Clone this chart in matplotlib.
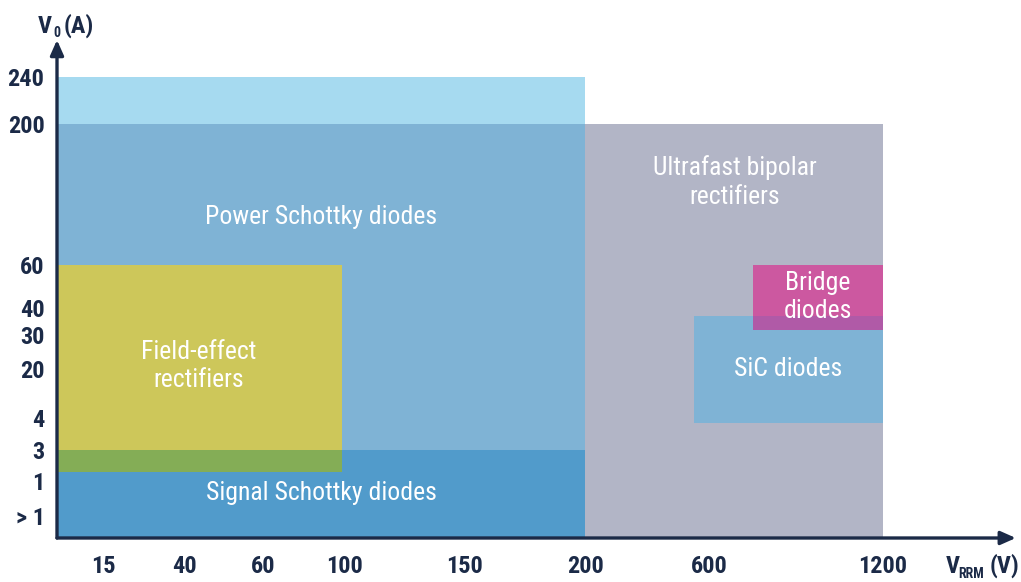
import numpy as np
import matplotlib
matplotlib.use("Agg")
from matplotlib import pyplot as plt
from matplotlib.patches import Rectangle

# ---- data ----
x_ticks = [15, 40, 60, 100, 150, 200, 600, 1200]
x_tick_labels = ["15", "40", "60", "100", "150", "200", "600", "1200"]
y_ticks = [0.5, 1, 3, 4, 20, 30, 40, 60, 200, 240]
y_tick_labels = ["> 1", "1", "3", "4", "20", "30", "40", "60", "200", "240"]

# name, V_RRM from, V_RRM to, V0 from, V0 to
region_names = ["power_top", "power", "signal", "ultrafast", "field_effect",
                "field_signal", "sic", "bridge", "bridge_sic"]
region_v_lo = [0, 0, 0, 200, 0, 0, 550, 750, 750]
region_v_hi = [200, 200, 200, 1200, 99, 99, 1200, 1200, 1200]
region_a_lo = [200, 0, 0, 0, 1.6, 1.6, 3.85, 32, 32]
region_a_hi = [240, 200, 3, 200, 60, 3, 37, 60, 37]
region_colors = ["#a6daf0", "#7fb3d5", "#519bcb", "#b2b5c6", "#cdc75a",
                 "#84ad56", "#7fb3d5", "#cc58a0", "#b05aa7"]

labels = ["Power Schottky diodes", "Ultrafast bipolar\nrectifiers",
          "Field-effect\nrectifiers", "Signal Schottky diodes",
          "SiC diodes", "Bridge\ndiodes"]
label_pos = [(0.320, 0.696), (0.821, 0.772), (0.172, 0.373),
             (0.320, 0.098), (0.885, 0.367), (0.921, 0.523)]

# ---- uneven axis scales (value -> position along the drawn axis) ----
x_anchor_val = [0, 15, 40, 60, 100, 150, 200, 600, 1200]
x_anchor_pos = [0, 46, 127, 206, 287, 407, 528, 652, 826]
y_anchor_val = [0, 0.5, 1, 3, 4, 20, 30, 40, 60, 200, 240]
y_anchor_pos = [0, 22, 57, 88, 120, 169, 203, 230, 273, 414, 461]


def make_scale(vals, pos):
    vals = np.array(vals, dtype=float)
    pos = np.array(pos, dtype=float)
    fwd = lambda v: np.interp(v, vals, pos)
    inv = lambda p: np.interp(p, pos, vals)
    return fwd, inv


navy = "#1b2a47"
plt.rcParams["font.family"] = ["Roboto Condensed", "DejaVu Sans"]
plt.rcParams["font.stretch"] = "condensed"

fig = plt.figure(figsize=(10.21, 5.82), dpi=100)
ax = fig.add_axes([57 / 1021, 44 / 582, 826 / 1021, 461 / 582])
ax.set_xscale("function", functions=make_scale(x_anchor_val, x_anchor_pos))
ax.set_yscale("function", functions=make_scale(y_anchor_val, y_anchor_pos))
ax.set_xlim(0, 1200)
ax.set_ylim(0, 240)

for name, x0, x1, y0, y1, c in zip(region_names, region_v_lo, region_v_hi,
                                   region_a_lo, region_a_hi, region_colors):
    ax.add_patch(Rectangle((x0, y0), x1 - x0, y1 - y0, facecolor=c,
                           edgecolor="none", zorder=1))

for txt, (px, py) in zip(labels, label_pos):
    ax.text(px, py, txt, transform=ax.transAxes, ha="center", va="center",
            color="white", fontsize=18.5, linespacing=1.22, zorder=3)

ax.set_xticks(x_ticks, x_tick_labels)
ax.set_yticks(y_ticks, y_tick_labels)
ax.minorticks_off()
ax.tick_params(axis="x", length=0, pad=12, labelsize=17.5, labelcolor=navy)
ax.tick_params(axis="y", length=0, pad=9, labelsize=17.5, labelcolor=navy)
for lab in ax.get_xticklabels() + ax.get_yticklabels():
    lab.set_fontweight("bold")
for s in ax.spines.values():
    s.set_visible(False)

# axis arrows
arrow = dict(arrowstyle="-|>,head_length=0.9,head_width=0.4", lw=2.4,
             color=navy, shrinkA=0, shrinkB=0)
ax.annotate("", xy=(958 / 826 + 0.001, 0), xytext=(0, 0),
            xycoords="axes fraction", arrowprops=arrow, annotation_clip=False)
ax.annotate("", xy=(0, 498 / 461), xytext=(0, 0),
            xycoords="axes fraction", arrowprops=arrow, annotation_clip=False)

# axis titles with hand-set subscripts
W, H = 1021, 582
title_kw = dict(color=navy, fontweight="bold", va="baseline")
fig.text(52 / W, 1 - 33 / H, "V", ha="right", fontsize=17.5, **title_kw)
fig.text(53 / W, 1 - 37 / H, "0", ha="left", fontsize=10, **title_kw)
fig.text(64 / W, 1 - 33 / H, "(A)", ha="left", fontsize=17.5, **title_kw)
fig.text(960 / W, 1 - 573 / H, "V", ha="right", fontsize=17.5, **title_kw)
fig.text(958 / W, 1 - 578 / H, "RRM", ha="left", fontsize=10, **title_kw)
fig.text(1019 / W, 1 - 573 / H, "(V)", ha="right", fontsize=17.5, **title_kw)

fig.savefig("out.png", dpi=100)
